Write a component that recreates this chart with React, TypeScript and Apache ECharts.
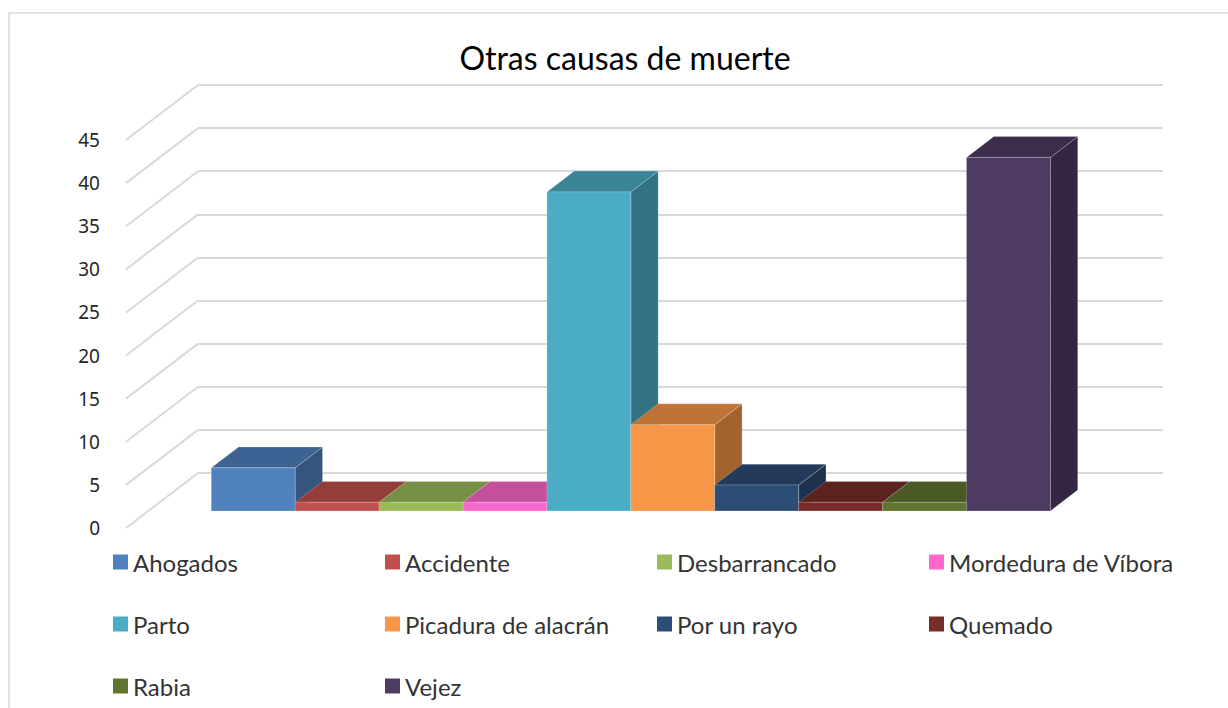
import React, { useEffect, useRef } from "react";
import * as echarts from "echarts";

const chartTitle = "Otras causas de muerte";
const causes = [
  "Ahogados",
  "Accidente",
  "Desbarrancado",
  "Mordedura de Víbora",
  "Parto",
  "Picadura de alacrán",
  "Por un rayo",
  "Quemado",
  "Rabia",
  "Vejez",
];
const deaths = [5, 1, 1, 1, 37, 10, 3, 1, 1, 41];
const colors = [
  "#4F81BD",
  "#C0504D",
  "#9BBB59",
  "#FF66CC",
  "#4BACC6",
  "#F79646",
  "#2C4D75",
  "#772C2A",
  "#5F7530",
  "#4D3B62",
];
const yTicks = [0, 5, 10, 15, 20, 25, 30, 35, 40, 45];

// 3D projection styling
const DX = 72;
const DY = -55;
const T1 = 0.31;
const T2 = 0.69;
const X_MIN = -1.25;
const X_MAX = 10.25;

function shade(hex: string, f: number) {
  const n = parseInt(hex.slice(1), 16);
  const r = Math.round(((n >> 16) & 255) * f);
  const g = Math.round(((n >> 8) & 255) * f);
  const b = Math.round((n & 255) * f);
  return `rgb(${r},${g},${b})`;
}

export default function App() {
  const ref = useRef<HTMLDivElement>(null);
  useEffect(() => {
    if (!ref.current) return;
    const chart = echarts.init(ref.current, null, { renderer: "svg" });

    const barSeries = causes.map((name, k) => ({
      type: "custom",
      name,
      xAxisIndex: 0,
      yAxisIndex: 0,
      itemStyle: { color: colors[k] },
      data: [[k, deaths[k]]],
      renderItem: (params: any, api: any) => {
        const i = api.value(0);
        const v = api.value(1);
        const b = api.coord([i - 0.5, 0]);
        const t = api.coord([i + 0.5, v]);
        const xL = b[0] + DX * T1;
        const xR = t[0] + DX * T1;
        const yB = b[1] + DY * T1;
        const yT = t[1] + DY * T1;
        const ddx = DX * (T2 - T1);
        const ddy = DY * (T2 - T1);
        const front = colors[k];
        return {
          type: "group",
          children: [
            {
              type: "polygon",
              shape: { points: [[xR, yT], [xR + ddx, yT + ddy], [xR + ddx, yB + ddy], [xR, yB]] },
              style: { fill: shade(front, 0.66), stroke: "rgba(255,255,255,0.25)", lineWidth: 0.8 },
            },
            {
              type: "polygon",
              shape: { points: [[xL, yT], [xR, yT], [xR + ddx, yT + ddy], [xL + ddx, yT + ddy]] },
              style: { fill: shade(front, 0.77), stroke: "rgba(255,255,255,0.25)", lineWidth: 0.8 },
            },
            {
              type: "rect",
              shape: { x: xL, y: yT, width: xR - xL, height: yB - yT },
              style: { fill: front, stroke: "rgba(255,255,255,0.25)", lineWidth: 0.8 },
            },
          ],
        };
      },
    }));

    const wallSeries = {
      type: "custom",
      name: "wall",
      silent: true,
      xAxisIndex: 0,
      yAxisIndex: 0,
      data: yTicks.map((v) => [X_MIN, v]),
      renderItem: (params: any, api: any) => {
        const a = api.coord([api.value(0), api.value(1)]);
        return {
          type: "line",
          shape: { x1: a[0], y1: a[1], x2: a[0] + DX, y2: a[1] + DY },
          style: { stroke: "#d9d9d9", lineWidth: 2 },
        };
      },
    };

    const columns = [0, 1, 2, 3].map((c) => causes.filter((_, idx) => idx % 4 === c));
    const legends = columns.map((col, c) => ({
      data: col,
      orient: "vertical",
      left: 113 + 272 * c,
      top: 547,
      width: 270,
      height: 200,
      padding: 0,
      itemWidth: 15,
      itemHeight: 15,
      itemGap: 32,
      icon: "rect",
      selectedMode: false,
      textStyle: { fontFamily: "Lato", fontSize: 24, color: "#333", lineHeight: 30 },
    }));

    chart.setOption({
      animation: false,
      backgroundColor: "#ffffff",
      grid: [
        { left: 126, top: 140, width: 965, height: 388 },
        { left: 126 + DX, top: 140 + DY, width: 965, height: 388 },
      ],
      xAxis: [
        { type: "value", gridIndex: 0, min: X_MIN, max: X_MAX, show: false },
        { type: "value", gridIndex: 1, min: X_MIN, max: X_MAX, show: false },
      ],
      yAxis: [
        {
          type: "value",
          gridIndex: 0,
          min: 0,
          max: 45,
          interval: 5,
          axisLine: { show: false },
          axisTick: { show: false },
          splitLine: { show: false },
          axisLabel: { margin: 26, fontFamily: "Noto Sans", fontSize: 19, color: "#262626" },
        },
        {
          type: "value",
          gridIndex: 1,
          min: 0,
          max: 45,
          interval: 5,
          axisLine: { show: false },
          axisTick: { show: false },
          axisLabel: { show: false },
          splitLine: { show: true, lineStyle: { color: "#d9d9d9", width: 2 } },
        },
      ],
      legend: legends,
      graphic: [
        {
          type: "rect",
          silent: true,
          shape: { x: 9, y: 13, width: 1400, height: 900 },
          style: { fill: "none", stroke: "#d9d9d9", lineWidth: 1.5 },
        },
        {
          type: "text",
          x: 625,
          y: 57,
          style: {
            text: chartTitle,
            fontFamily: "Lato",
            fontSize: 32,
            fill: "#000",
            align: "center",
            verticalAlign: "middle",
          },
        },
      ],
      series: [wallSeries, ...barSeries],
    });
    return () => chart.dispose();
  }, []);
  return (
    <div
      ref={ref}
      style={{ position: "fixed", left: 0, top: 0, width: 1228, height: 708 }}
    />
  );
}
